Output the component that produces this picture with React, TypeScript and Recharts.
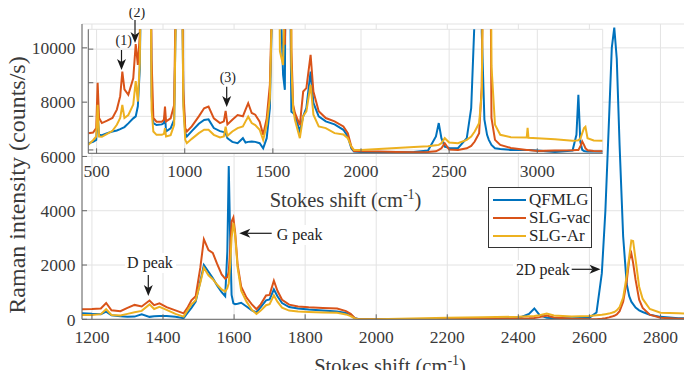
import React from "react";
import { LineChart, Line, XAxis, YAxis, CartesianGrid, Legend } from "recharts";

const FONT =
  '"Liberation Serif", "DejaVu Serif", Tinos, "Times New Roman", Times, "Nimbus Roman", FreeSerif, serif';
const AXIS = "#666";
const GRID = "#e3e3e3";
const TEXT = "#3a3a3a";

const SERIES = [
  { key: "qfmlg", name: "QFMLG", color: "#0072BD" },
  { key: "vac", name: "SLG-vac", color: "#D95319" },
  { key: "ar", name: "SLG-Ar", color: "#EDB120" },
];

// Background-corrected spectra (main axes)
const mainShift = [
  1172, 1200, 1225, 1240, 1255, 1280, 1300, 1320, 1340, 1362,
  1375, 1390, 1410, 1435, 1458, 1470, 1480, 1492, 1505, 1515,
  1528, 1540, 1552, 1565, 1575, 1581, 1585, 1589, 1593, 1598,
  1603, 1610, 1620, 1635, 1650, 1663, 1675, 1690, 1700, 1712,
  1722, 1735, 1755, 1780, 1810, 1850, 1890, 1915, 1928, 1940,
  1950, 1975, 2000, 2100, 2200, 2300, 2400, 2430, 2445, 2460,
  2480, 2500, 2550, 2600, 2620, 2635, 2645, 2655, 2663, 2670,
  2677, 2685, 2695, 2705, 2712, 2718, 2723, 2730, 2740, 2750,
  2770, 2800, 2850, 2900,
];
const mainQFMLG = [
  220, 200, 190, 280, 150, 110, 95, 100, 185, 90,
  110, 125, 120, 90, 40, 250, 420, 650, 1400, 2000,
  1750, 1520, 1250, 1000, 850, 2500, 5650, 3000, 900, 590,
  560, 570, 610, 470, 330, 260, 450, 700, 730, 1100,
  850, 600, 450, 400, 360, 320, 290, 230, 180, 40,
  10, 10, 5, 10, 15, 20, 40, 200, 400, 150,
  60, 40, 40, 60, 250, 1700, 4000, 7300, 10000, 10750,
  9600, 6400, 3050, 1300, 850, 650, 560, 430, 330, 270,
  170, 90, 40, 30,
];
const mainSLGvac = [
  370, 380, 400, 600, 330, 300, 420, 530, 470, 690,
  520, 590, 450, 330, 220, 450, 700, 850, 1900, 2950,
  2550, 2450, 2050, 1650, 1500, 1550, 1750, 2600, 3600, 3750,
  3200, 2000, 1200, 800, 550, 370, 550, 880, 900, 1420,
  1050, 720, 540, 470, 440, 420, 400, 300, 200, 40,
  5, 0, 0, 5, 10, 15, 30, 40, 50, 80,
  140, 70, 20, 0, 0, 20, 40, 70, 100, 130,
  180, 300, 650, 1400, 2200, 2430, 2080, 1450, 720, 420,
  170, 60, 20, 10,
];
const mainSLGAr = [
  160, 160, 190, 370, 160, 140, 200, 260, 310, 550,
  380, 460, 350, 200, 100, 350, 550, 700, 1350, 1900,
  1620, 1480, 1280, 1100, 1020, 1150, 1330, 2000, 3000, 3550,
  3100, 1900, 1050, 650, 350, 200, 320, 520, 560, 880,
  650, 430, 320, 290, 270, 250, 240, 180, 120, 30,
  5, 0, 5, 30, 60, 75, 95, 110, 120, 150,
  210, 140, 100, 120, 150, 170, 190, 210, 240, 270,
  330, 450, 800, 1600, 2300, 2900, 2880, 2200, 1200, 750,
  380, 240, 220, 210,
];

// Raw spectra including the substrate (inset axes)
const insetShift = [
  453, 480, 498, 506, 514, 530, 560, 590, 615, 634,
  646, 658, 680, 708, 722, 734, 745, 760, 780, 800,
  812, 822, 840, 870, 882, 888, 894, 920, 940, 955,
  968, 980, 992, 1003, 1012, 1040, 1080, 1110, 1135, 1165,
  1200, 1222, 1232, 1242, 1270, 1300, 1330, 1345, 1360, 1380,
  1400, 1425, 1445, 1465, 1483, 1498, 1520, 1540, 1558, 1568,
  1580, 1596, 1605, 1615, 1625, 1653, 1672, 1690, 1714, 1730,
  1760, 1800, 1850, 1900, 1925, 1945, 1960, 2000, 2100, 2200,
  2300, 2380, 2425, 2441, 2456, 2475, 2500, 2550, 2600, 2625,
  2645, 2660, 2670, 2685, 2700, 2715, 2725, 2740, 2760, 2790,
  2850, 2940, 2945, 2950, 3000, 3100, 3200, 3222, 3233, 3244,
  3255, 3265, 3273, 3285, 3320, 3370,
];
const insetQFMLG = [
  6200, 6240, 6300, 7040, 6450, 6440, 6500, 6550, 6580, 6620,
  6650, 6680, 6790, 6940, 7000, 7300, 8400, 14000, 30000, 16000,
  7600, 6800, 6740, 6760, 6800, 7040, 6550, 6640, 6900, 12000,
  30000, 14000, 7500, 6500, 6400, 6560, 6780, 6890, 6910, 6650,
  6560, 6530, 6500, 6350, 6240, 6200, 6350, 6220, 6240, 6250,
  6240, 6200, 6050, 6350, 7240, 11000, 20000, 11000, 8230, 7790,
  20000, 12000, 7140, 7100, 7040, 6550, 7000, 7250, 8330, 7400,
  7000, 6850, 6760, 6600, 6400, 6050, 5950, 5940, 5930, 5930,
  5940, 5980, 6400, 6800, 6350, 6100, 6060, 6050, 6350, 7240,
  10000, 25000, 35000, 9500, 6900, 6450, 6300, 6150, 6050, 6030,
  6000, 6000, 6000, 6000, 5980, 5940, 5980, 6450, 7640, 6250,
  6000, 5970, 5960, 5950, 5950, 5950,
];
const insetSLGvac = [
  6500, 6520, 6650, 8000, 6950, 6800, 6870, 6950, 7200, 7600,
  8330, 7800, 7640, 8130, 9150, 8530, 9400, 16000, 30000, 17000,
  8700, 6950, 6840, 6840, 6900, 7290, 6850, 6940, 7340, 13000,
  30000, 15000, 7800, 6650, 6550, 6700, 7000, 7240, 7290, 6940,
  6800, 6850, 7160, 6760, 6900, 7040, 7000, 7200, 7390, 7100,
  7050, 6840, 6450, 6940, 7940, 11000, 20000, 14000, 10000, 9130,
  12000, 20000, 9000, 7340, 7100, 6740, 7740, 7840, 8830, 7740,
  7150, 6950, 6850, 6700, 6500, 6100, 5970, 5960, 5950, 5940,
  5930, 5940, 5960, 6000, 6050, 6200, 6010, 6000, 6050, 6120,
  6250, 6400, 6500, 7900, 15000, 25000, 20000, 6950, 6300, 6150,
  6060, 6000, 6000, 6000, 5970, 5980, 5990, 6000, 6000, 6100,
  6250, 6150, 6050, 5990, 5970, 5960,
];
const insetSLGAr = [
  6150, 6290, 6400, 7340, 6400, 6390, 6480, 6570, 6750, 6950,
  7340, 6950, 7040, 7350, 8050, 7440, 8600, 15000, 30000, 16000,
  7200, 6550, 6450, 6450, 6480, 6650, 6400, 6440, 6750, 12000,
  30000, 14000, 7300, 6300, 6200, 6330, 6500, 6600, 6600, 6450,
  6370, 6400, 6690, 6420, 6550, 6650, 6700, 6850, 6990, 6800,
  6740, 6600, 6300, 6740, 7540, 11000, 20000, 8930, 8530, 11000,
  12000, 20000, 8500, 7240, 6900, 6350, 7000, 7150, 7940, 7050,
  6700, 6650, 6500, 6460, 6350, 6100, 6000, 6000, 6030, 6060,
  6090, 6110, 6140, 6150, 6200, 6350, 6220, 6200, 6300, 6400,
  6550, 6700, 6800, 7700, 16000, 30000, 28000, 8500, 6750, 6450,
  6380, 6370, 6660, 6360, 6350, 6320, 6270, 6280, 6290, 6330,
  6500, 6650, 6690, 6350, 6280, 6270,
];

const mainTicksX = [1200, 1400, 1600, 1800, 2000, 2200, 2400, 2600, 2800];
const mainTicksY = [0, 2000, 4000, 6000, 8000, 10000];
const insetTicksX = [500, 1000, 1500, 2000, 2500, 3000];
const insetTicksY = [6000, 7000, 8000, 9000];

const mainData = mainShift.map((shift, i) => ({
  shift,
  qfmlg: mainQFMLG[i],
  vac: mainSLGvac[i],
  ar: mainSLGAr[i],
}));

const insetData = insetShift.map((shift, i) => ({
  shift,
  qfmlg: insetQFMLG[i],
  vac: insetSLGvac[i],
  ar: insetSLGAr[i],
}));

const tickStyle = { fill: TEXT, fontSize: 17.5, fontFamily: FONT };
const blank = () => "";

function LegendBox() {
  return (
    <div
      style={{
        width: 104,
        height: 61,
        boxSizing: "border-box",
        border: "1px solid #333",
        background: "#fff",
        paddingTop: 3,
        fontFamily: FONT,
        fontSize: 17,
        color: "#262626",
      }}
    >
      {SERIES.map((s) => (
        <div key={s.key} style={{ display: "flex", alignItems: "center", height: 18 }}>
          <span style={{ display: "inline-block", width: 33, height: 2, marginLeft: 4, background: s.color }} />
          <span style={{ marginLeft: 3, lineHeight: "18px" }}>{s.name}</span>
        </div>
      ))}
    </div>
  );
}

// arrow with a swept-back filled head, tip at (x2, y2)
function Arrow({ x1, y1, x2, y2 }: { x1: number; y1: number; x2: number; y2: number }) {
  const len = Math.hypot(x2 - x1, y2 - y1);
  const ux = (x2 - x1) / len;
  const uy = (y2 - y1) / len;
  const L = 11;
  const W = 4.5;
  const N = 3;
  const bx = x2 - ux * L;
  const by = y2 - uy * L;
  const nx = x2 - ux * (L - N);
  const ny = y2 - uy * (L - N);
  const pts = [
    [x2, y2],
    [bx - uy * W, by + ux * W],
    [nx, ny],
    [bx + uy * W, by - ux * W],
  ]
    .map((p) => p.join(","))
    .join(" ");
  return (
    <g>
      <line x1={x1} y1={y1} x2={nx} y2={ny} stroke="#1a1a1a" strokeWidth={1.2} />
      <polygon points={pts} fill="#1a1a1a" />
    </g>
  );
}

function seriesLines() {
  return SERIES.map((s) => (
    <Line
      key={s.key}
      type="linear"
      dataKey={s.key}
      name={s.name}
      stroke={s.color}
      strokeWidth={2}
      dot={false}
      activeDot={false}
      isAnimationActive={false}
    />
  ));
}

export default function App() {
  return (
    <div
      style={{
        position: "relative",
        width: 692,
        height: 378,
        margin: -8,
        overflow: "hidden",
        background: "#fff",
        fontFamily: FONT,
      }}
    >
      <div style={{ position: "absolute", left: 0, top: 0 }}>
        <LineChart width={700} height={378} data={mainData} margin={{ top: 24, right: 4, bottom: 0, left: 0 }}>
          <CartesianGrid stroke={GRID} />
          <XAxis
            dataKey="shift"
            type="number"
            domain={[1172, 2900]}
            ticks={mainTicksX}
            interval={0}
            allowDataOverflow
            height={58.7}
            tickSize={-5}
            tickMargin={16.5}
            stroke={AXIS}
            tick={tickStyle}
          />
          <XAxis
            xAxisId="top"
            orientation="top"
            type="number"
            domain={[1172, 2900]}
            ticks={mainTicksX}
            interval={0}
            allowDataOverflow
            height={0}
            tickSize={-5}
            tickFormatter={blank}
            stroke={AXIS}
          />
          <YAxis
            type="number"
            domain={[0, 10880]}
            ticks={mainTicksY}
            interval={0}
            allowDataOverflow
            width={82}
            tickSize={-5}
            tickMargin={11.5}
            stroke={AXIS}
            tick={tickStyle}
          />
          {seriesLines()}
          <Legend
            layout="vertical"
            align="center"
            verticalAlign="middle"
            content={() => <LegendBox />}
            wrapperStyle={{ left: 488, top: 187, width: 104, height: 61 }}
          />
        </LineChart>
      </div>

      <div style={{ position: "absolute", left: 0, top: 0 }}>
        <LineChart width={610} height={215} data={insetData} margin={{ top: 29.3, right: 7.3, bottom: 0, left: 58.3 }}>
          <CartesianGrid stroke={GRID} fill="#fff" fillOpacity={1} />
          <XAxis
            dataKey="shift"
            type="number"
            domain={[453, 3371]}
            ticks={insetTicksX}
            interval={0}
            allowDataOverflow
            height={61.7}
            tickSize={-5}
            tickMargin={16.5}
            stroke={AXIS}
            tick={tickStyle}
          />
          <XAxis
            xAxisId="top"
            orientation="top"
            type="number"
            domain={[453, 3371]}
            ticks={insetTicksX}
            interval={0}
            allowDataOverflow
            height={0}
            tickSize={-5}
            tickFormatter={blank}
            stroke={AXIS}
          />
          <YAxis
            type="number"
            domain={[5900, 9590]}
            ticks={insetTicksY}
            interval={0}
            allowDataOverflow
            width={30}
            tickSize={-5}
            tickFormatter={blank}
            stroke={AXIS}
          />
          <YAxis
            yAxisId="right"
            orientation="right"
            type="number"
            domain={[5900, 9590]}
            ticks={insetTicksY}
            interval={0}
            allowDataOverflow
            width={0}
            tickSize={-5}
            tickFormatter={blank}
            stroke={AXIS}
          />
          {seriesLines()}
        </LineChart>
      </div>

      <svg
        width={692}
        height={378}
        style={{ position: "absolute", left: 0, top: 0, pointerEvents: "none", fontFamily: FONT }}
      >
        {/* axis titles */}
        <text x={390} y={373} textAnchor="middle" fontSize={20.5} fill={TEXT}>
          Stokes shift (cm<tspan dy={-8} fontSize={14}>-1</tspan>
          <tspan dy={8}>)</tspan>
        </text>
        <text x={345.5} y={206.5} textAnchor="middle" fontSize={20.5} fill={TEXT}>
          Stokes shift (cm<tspan dy={-8} fontSize={14}>-1</tspan>
          <tspan dy={8}>)</tspan>
        </text>
        <text transform="translate(25,185) rotate(-90)" textAnchor="middle" fontSize={24} fill={TEXT}>
          Raman intensity (counts/s)
        </text>

        {/* peak labels on the main axes */}
        <rect x={125} y={253} width={51} height={20} fill="#fff" />
        <text x={150} y={268.3} textAnchor="middle" fontSize={16} fill="#222">D peak</text>
        <Arrow x1={148.3} y1={275} x2={148.3} y2={296} />

        <rect x={274} y={225} width={51} height={20} fill="#fff" />
        <text x={276.7} y={240} fontSize={16} fill="#222">G peak</text>
        <Arrow x1={271.7} y1={233.3} x2={239.3} y2={233.3} />

        <rect x={513} y={260} width={58} height={20} fill="#fff" />
        <text x={516} y={275} fontSize={16} fill="#222">2D peak</text>
        <Arrow x1={571.7} y1={269.3} x2={600.5} y2={269.3} />

        {/* labels on the inset */}
        <text x={123.7} y={45} textAnchor="middle" fontSize={14} fill="#222">(1)</text>
        <Arrow x1={121.5} y1={50} x2={121.5} y2={70} />
        <text x={137} y={17.3} textAnchor="middle" fontSize={14} fill="#222">(2)</text>
        <Arrow x1={135} y1={20} x2={135} y2={43} />
        <text x={227.8} y={82.3} textAnchor="middle" fontSize={14} fill="#222">(3)</text>
        <Arrow x1={226.7} y1={86.7} x2={226.7} y2={107} />
      </svg>
    </div>
  );
}
